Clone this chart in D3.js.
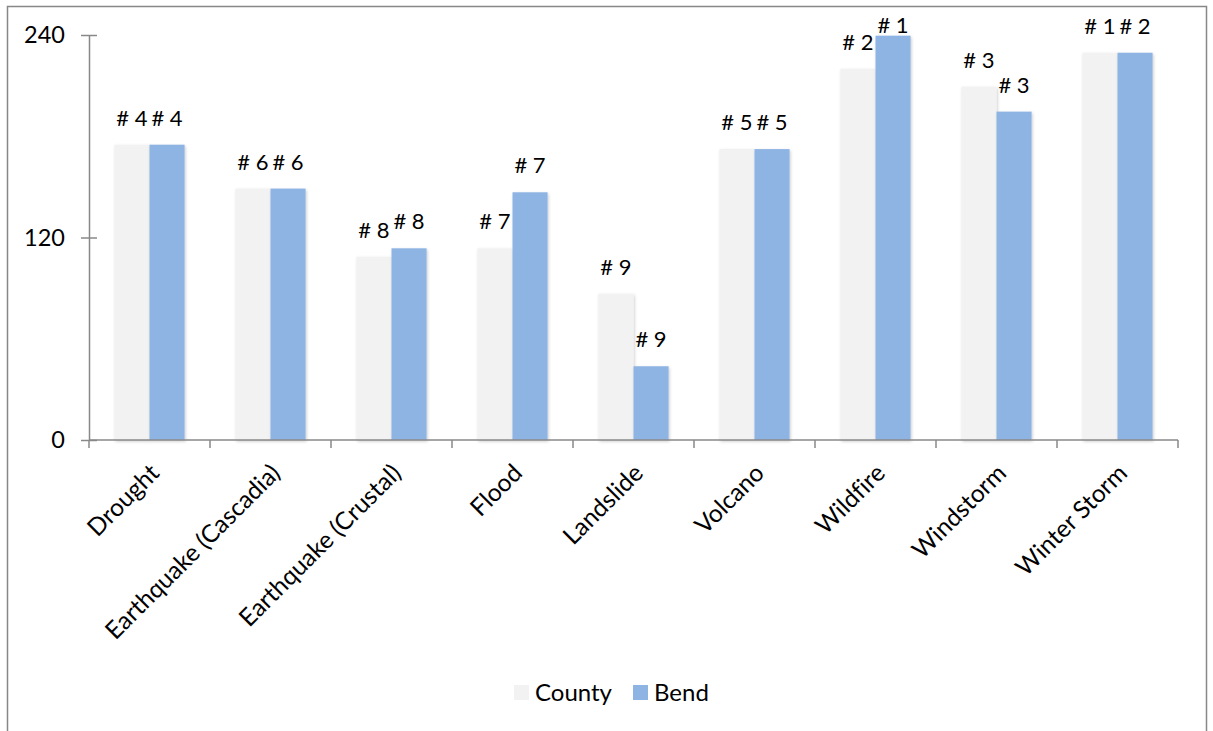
<!DOCTYPE html>
<html>
<head>
<meta charset="utf-8">
<script src="https://cdn.jsdelivr.net/npm/d3@7"></script>
<style>
  html, body { margin: 0; padding: 0; background: #fff; }
  svg { display: block; font-family: Lato, "Open Sans", sans-serif; font-variant-ligatures: none; }
</style>
</head>
<body>
<script>
const categories = ["Drought", "Earthquake (Cascadia)", "Earthquake (Crustal)", "Flood", "Landslide", "Volcano", "Wildfire", "Windstorm", "Winter Storm"];
const seriesNames = ["County", "Bend"];
const countyValues = [175, 149, 108.6, 113.6, 86.7, 172.4, 220, 209.4, 229.5];
const bendValues = [175, 149, 113.6, 146.8, 43.7, 172.4, 239.6, 194.6, 229.5];
const countyRanks = [4, 6, 8, 7, 9, 5, 2, 3, 1];
const bendRanks = [4, 6, 8, 7, 9, 5, 1, 3, 2];
const yTicks = [0, 120, 240];
const colors = { County: "#f2f2f2", Bend: "#8eb4e3" };

const W = 1213, H = 731;
const svg = d3.select("body").append("svg").attr("width", W).attr("height", H);

const defs = svg.append("defs");
const f = defs.append("filter").attr("id", "shadow").attr("x", "-20%").attr("y", "-5%").attr("width", "140%").attr("height", "110%");
f.append("feDropShadow").attr("dx", 1).attr("dy", 1.5).attr("stdDeviation", 1.6).attr("flood-color", "#000").attr("flood-opacity", 0.2);

// outer border
svg.append("rect").attr("x", 7.5).attr("y", 6.5).attr("width", 1199).attr("height", 740)
  .attr("fill", "#fff").attr("stroke", "#878787").attr("stroke-width", 1.5);

const mLeft = 89, mRight = 1178, mTop = 35, mBottom = 440;
const x0 = d3.scaleBand().domain(categories).range([mLeft, mRight]).paddingInner(0.42).paddingOuter(0.21);
const x1 = d3.scaleBand().domain(seriesNames).range([0, x0.bandwidth()]);
const y = d3.scaleLinear().domain([0, 240]).range([mBottom, mTop]);

const data = categories.map((c, i) => ({
  cat: c,
  vals: [
    { s: "County", v: countyValues[i], r: countyRanks[i] },
    { s: "Bend", v: bendValues[i], r: bendRanks[i] }
  ]
}));

const groups = svg.append("g").selectAll("g").data(data).join("g")
  .attr("transform", d => `translate(${x0(d.cat)},0)`);

groups.selectAll("rect").data(d => d.vals).join("rect")
  .attr("x", d => x1(d.s))
  .attr("y", d => y(d.v))
  .attr("width", x1.bandwidth())
  .attr("height", d => y(0) - y(d.v))
  .attr("fill", d => colors[d.s])
  .attr("filter", "url(#shadow)");

groups.selectAll("text").data(d => d.vals).join("text")
  .attr("x", d => x1(d.s) + x1.bandwidth() / 2)
  .attr("y", d => Math.max(y(d.v) - 19, 33))
  .attr("text-anchor", "middle")
  .attr("font-size", 22)
  .attr("fill", "#000")
  .text(d => "# " + d.r);

// y axis
const yAxis = svg.append("g").attr("transform", `translate(${mLeft},0)`)
  .call(d3.axisLeft(y).tickValues(yTicks).tickSizeInner(8).tickSizeOuter(0).tickPadding(16));
yAxis.selectAll(".tick line").attr("x2", 8).attr("x1", -8);
yAxis.select(".domain").attr("stroke", "#888").attr("stroke-width", 1.5);
yAxis.selectAll(".tick line").attr("stroke", "#888").attr("stroke-width", 1.5);
yAxis.selectAll(".tick text").attr("font-size", 23.5).attr("fill", "#000").attr("font-family", "Lato, sans-serif");

// x axis
const xAxisG = svg.append("g").attr("transform", `translate(0,${mBottom})`);
xAxisG.append("line").attr("x1", mLeft).attr("x2", mRight).attr("stroke", "#888").attr("stroke-width", 1.5);
const tickPos = categories.map(c => x0(c) - x0.step() * x0.paddingInner() / 2).concat([mRight]);
xAxisG.selectAll("line.tk").data(tickPos).join("line").attr("class", "tk")
  .attr("x1", d => d).attr("x2", d => d).attr("y1", 0).attr("y2", 8)
  .attr("stroke", "#888").attr("stroke-width", 1.5);

xAxisG.selectAll("text").data(categories).join("text")
  .attr("transform", d => `translate(${x0(d) + x0.bandwidth() / 2 - 1.5},${22}) rotate(-45)`)
  .attr("text-anchor", "end")
  .attr("dy", "0.73em")
  .attr("font-size", 24.5)
  .attr("fill", "#000")
  .text(d => d);

// legend
const legend = svg.append("g").attr("transform", "translate(514,685)");
const litems = [{ s: "County", x: 0 }, { s: "Bend", x: 119 }];
legend.selectAll("rect").data(litems).join("rect")
  .attr("x", d => d.x).attr("y", 0).attr("width", 15).attr("height", 15)
  .attr("fill", d => colors[d.s]);
legend.selectAll("text").data(litems).join("text")
  .attr("x", d => d.x + 21).attr("y", 15.5)
  .attr("font-size", 24).attr("fill", "#000")
  .text(d => d.s);
</script>
</body>
</html>
